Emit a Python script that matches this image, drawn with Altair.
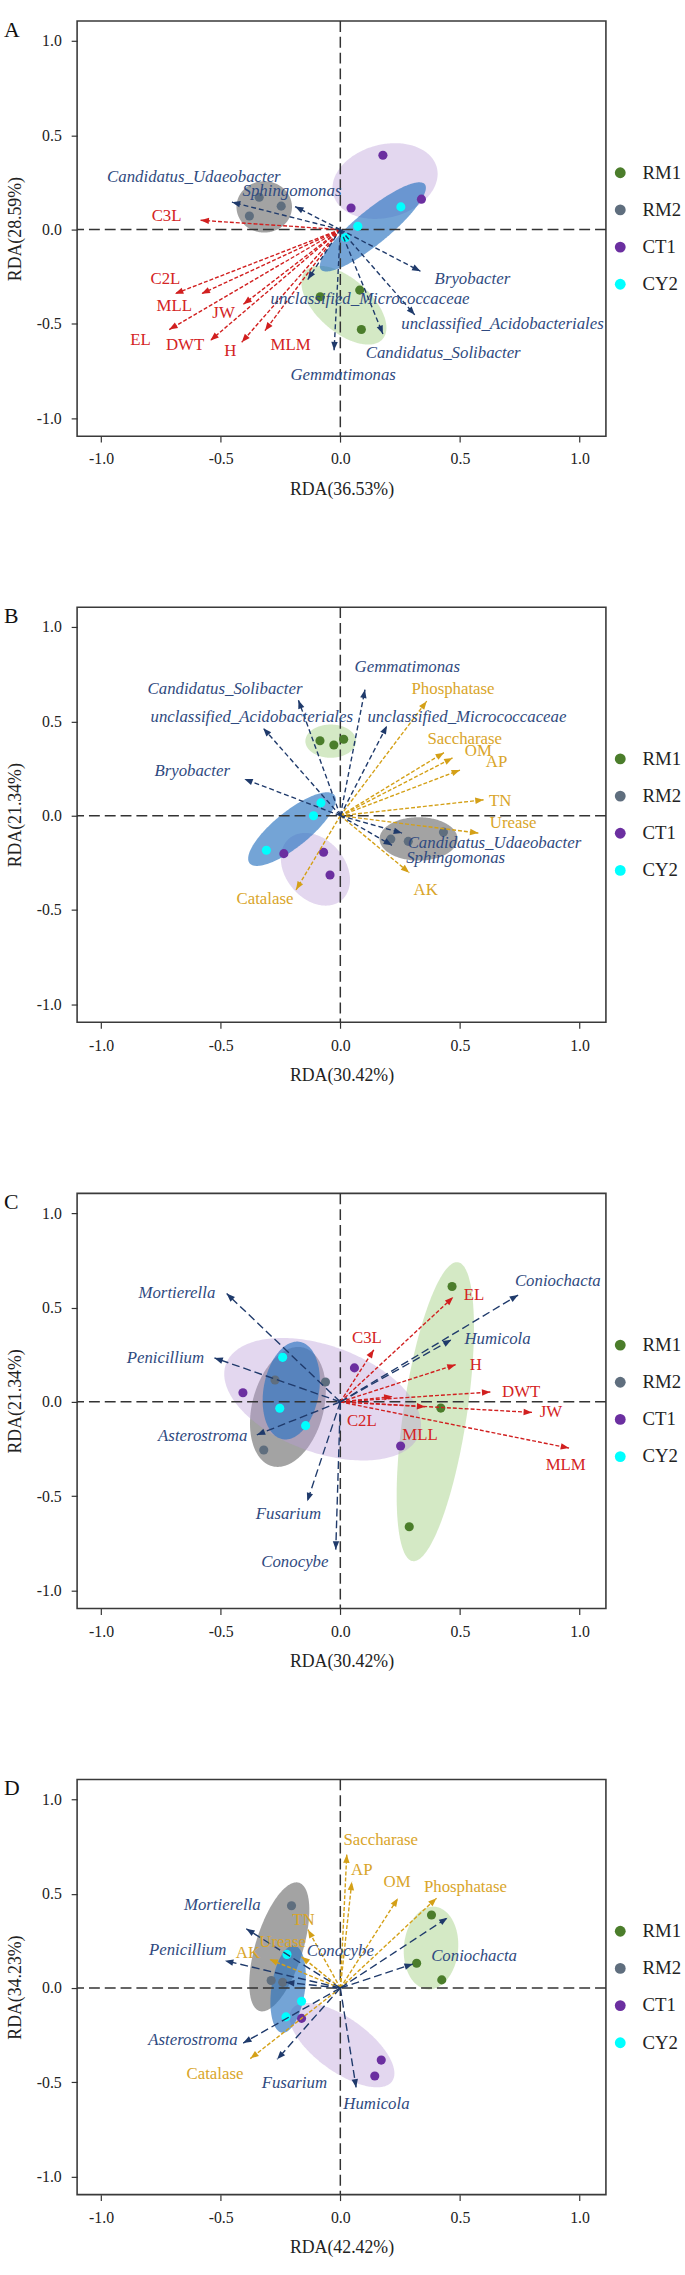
import math
import numpy as np
import pandas as pd
import altair as alt

SERIF = "Liberation Serif"
GROUPS = ["RM1", "RM2", "CT1", "CY2"]
POINT_COLORS = ["#4b7d2b", "#5f6e7e", "#6b2fa0", "#00ffff"]
ELLIPSE_FILLS = ["#9fcf7f", "#606060", "#b89ad6", "#2a73c0"]
ELLIPSE_OPACITY = [0.45, 0.58, 0.4, 0.65]
RED, RED_TXT = "#d11f1f", "#d42424"
GOLD, GOLD_TXT = "#d4a017", "#d9a52a"
NAVY, NAVY_TXT = "#1f3a6b", "#2f4a80"

X_DOMAIN = [-1.1, 1.11]
Y_DOMAIN = [-1.095, 1.105]
TICKS = [-1.0, -0.5, 0.0, 0.5, 1.0]
W, H = 535, 420

# ---------------- Panel A ----------------
A_xtitle, A_ytitle = "RDA(36.53%)", "RDA(28.59%)"
A_pt_group = ["RM1"] * 3 + ["RM2"] * 3 + ["CT1"] * 3 + ["CY2"] * 3
A_pt_x = [-0.084, 0.081, 0.088, -0.339, -0.247, -0.380, 0.178, 0.045, 0.339, 0.253, 0.073, 0.022]
A_pt_y = [-0.356, -0.321, -0.530, 0.171, 0.124, 0.072, 0.394, 0.114, 0.161, 0.120, 0.017, -0.042]
# ellipses (order RM1, RM2, CT1, CY2): centre + two conjugate semi-diameters
A_ell_cx = [0.015, -0.318, 0.187, 0.136]
A_ell_cy = [-0.401, 0.120, 0.257, 0.014]
A_ell_ux = [0.162, 0.116, 0.216, 0.217]
A_ell_uy = [-0.179, 0.0, 0.073, 0.226]
A_ell_vx = [0.073, 0.0, -0.040, -0.045]
A_ell_vy = [0.107, 0.136, 0.187, 0.069]
A_env_name = ["C3L", "C2L", "MLL", "EL", "JW", "DWT", "H", "MLM"]
A_env_x = [-0.584, -0.691, -0.580, -0.715, -0.405, -0.543, -0.412, -0.315]
A_env_y = [0.049, -0.340, -0.340, -0.530, -0.396, -0.588, -0.597, -0.536]
A_env_lx = [-0.726, -0.731, -0.694, -0.835, -0.488, -0.649, -0.460, -0.208]
A_env_ly = [0.070, -0.265, -0.405, -0.583, -0.440, -0.614, -0.646, -0.611]
A_sp_name = ["Candidatus_Udaeobacter", "Sphingomonas", "unclassified_Micrococcaceae", "Gemmatimonas",
             "Candidatus_Solibacter", "unclassified_Acidobacteriales", "Bryobacter"]
A_sp_x = [-0.453, -0.189, -0.136, -0.026, 0.178, 0.311, 0.335]
A_sp_y = [0.145, 0.122, -0.265, -0.640, -0.553, -0.452, -0.221]
A_sp_lx = [-0.612, -0.202, 0.124, 0.012, 0.430, 0.678, 0.552]
A_sp_ly = [0.276, 0.203, -0.366, -0.770, -0.654, -0.499, -0.265]

# ---------------- Panel B ----------------
B_xtitle, B_ytitle = "RDA(30.42%)", "RDA(21.34%)"
B_pt_group = A_pt_group
B_pt_x = [-0.085, -0.027, 0.014, 0.431, 0.284, 0.211, -0.236, -0.070, -0.043, -0.081, -0.112, -0.309]
B_pt_y = [0.397, 0.375, 0.405, -0.087, -0.136, -0.124, -0.201, -0.194, -0.314, 0.068, 0.000, -0.183]
B_ell_cx = [-0.040, 0.327, -0.104, -0.202]
B_ell_cy = [0.395, -0.123, -0.284, -0.071]
B_ell_ux = [0.106, 0.163, 0.109, 0.177]
B_ell_uy = [0.0, 0.0, -0.164, 0.181]
B_ell_vx = [0.0, 0.0, 0.095, -0.047]
B_ell_vy = [0.088, 0.115, 0.101, 0.073]
B_enz_name = ["Phosphatase", "Saccharase", "OM", "AP", "TN", "Urease", "AK", "Catalase"]
B_enz_x = [0.361, 0.433, 0.469, 0.500, 0.599, 0.577, 0.288, -0.185]
B_enz_y = [0.607, 0.334, 0.306, 0.242, 0.084, -0.092, -0.302, -0.393]
B_enz_lx = [0.471, 0.520, 0.577, 0.653, 0.668, 0.722, 0.357, -0.315]
B_enz_ly = [0.671, 0.408, 0.340, 0.284, 0.079, -0.040, -0.393, -0.441]
B_sp_name = ["Gemmatimonas", "Candidatus_Solibacter", "unclassified_Acidobacteriales",
             "unclassified_Micrococcaceae", "Bryobacter", "Candidatus_Udaeobacter", "Sphingomonas"]
B_sp_x = [0.103, -0.175, -0.322, 0.195, -0.401, 0.258, 0.216]
B_sp_y = [0.668, 0.612, 0.464, 0.477, 0.195, -0.092, -0.157]
B_sp_lx = [0.280, -0.482, -0.370, 0.529, -0.619, 0.644, 0.482]
B_sp_ly = [0.788, 0.673, 0.523, 0.523, 0.236, -0.144, -0.227]

# ---------------- Panel C ----------------
C_xtitle, C_ytitle = "RDA(30.42%)", "RDA(21.34%)"
C_pt_group = A_pt_group
C_pt_x = [0.467, 0.420, 0.288, -0.273, -0.062, -0.320, -0.407, 0.059, 0.252, -0.241, -0.253, -0.145]
C_pt_y = [0.611, -0.033, -0.662, 0.116, 0.105, -0.255, 0.048, 0.180, -0.234, 0.236, -0.034, -0.126]
C_ell_cx = [0.397, -0.219, -0.074, -0.205]
C_ell_cy = [-0.052, -0.027, 0.014, 0.060]
C_ell_ux = [0.0945, 0.066, 0.404, 0.036]
C_ell_uy = [0.792, 0.314, -0.186, 0.258]
C_ell_vx = [-0.131, -0.144, 0.076, -0.114]
C_ell_vy = [0.025, 0.049, 0.266, 0.026]
C_env_name = ["EL", "C3L", "H", "DWT", "JW", "MLM", "C2L", "MLL"]
C_env_x = [0.472, 0.140, 0.482, 0.627, 0.801, 0.956, 0.218, 0.355]
C_env_y = [0.555, 0.276, 0.197, 0.052, -0.056, -0.245, 0.028, -0.026]
C_env_lx = [0.559, 0.111, 0.566, 0.756, 0.880, 0.942, 0.090, 0.333]
C_env_ly = [0.564, 0.338, 0.196, 0.051, -0.056, -0.334, -0.100, -0.174]
C_sp_name = ["Mortierella", "Penicillium", "Asterostroma", "Fusarium", "Conocybe", "Coniochacta", "Humicola"]
C_sp_x = [-0.475, -0.526, -0.349, -0.138, -0.019, 0.743, 0.464]
C_sp_y = [0.574, 0.233, -0.175, -0.527, -0.783, 0.566, 0.329]
C_sp_lx = [-0.683, -0.731, -0.575, -0.217, -0.190, 0.909, 0.657]
C_sp_ly = [0.574, 0.233, -0.180, -0.594, -0.848, 0.638, 0.333]

# ---------------- Panel D ----------------
D_xtitle, D_ytitle = "RDA(42.42%)", "RDA(34.23%)"
D_pt_group = A_pt_group
D_pt_x = [0.381, 0.319, 0.424, -0.204, -0.289, -0.241, -0.162, 0.171, 0.144, -0.223, -0.162, -0.227]
D_pt_y = [0.387, 0.131, 0.043, 0.436, 0.040, 0.030, -0.161, -0.382, -0.466, 0.178, -0.070, -0.153]
D_ell_cx = [0.379, -0.255, 0.007, -0.218]
D_ell_cy = [0.212, 0.218, -0.303, -0.006]
D_ell_ux = [0.0151, 0.082, 0.209, 0.0256]
D_ell_uy = [0.219, 0.340, -0.192, 0.231]
D_ell_vx = [-0.113, -0.095, 0.0656, -0.0695]
D_ell_vy = [0.0125, 0.036, 0.114, 0.0124]
D_enz_name = ["Saccharase", "AP", "OM", "Phosphatase", "TN", "Urease", "AK", "Catalase"]
D_enz_x = [0.027, 0.048, 0.241, 0.402, -0.135, -0.162, -0.296, -0.376]
D_enz_y = [0.707, 0.563, 0.476, 0.476, 0.309, 0.166, 0.152, -0.374]
D_enz_lx = [0.169, 0.090, 0.237, 0.523, -0.154, -0.241, -0.386, -0.524]
D_enz_ly = [0.785, 0.626, 0.564, 0.535, 0.361, 0.245, 0.187, -0.456]
D_sp_name = ["Mortierella", "Penicillium", "Conocybe", "Coniochacta", "", "Asterostroma", "Fusarium", "Humicola"]
D_sp_x = [-0.393, -0.482, -0.227, 0.303, 0.448, -0.406, -0.264, 0.066]
D_sp_y = [0.314, 0.145, 0.030, 0.127, 0.372, -0.292, -0.378, -0.527]
D_sp_lx = [-0.493, -0.638, 0.000, 0.559, 0.448, -0.616, -0.192, 0.151]
D_sp_ly = [0.441, 0.202, 0.197, 0.168, 0.372, -0.275, -0.505, -0.617]

# ------------------------------------------------------------------
SX = W / (X_DOMAIN[1] - X_DOMAIN[0])
SY = H / (Y_DOMAIN[1] - Y_DOMAIN[0])
HEAD = "M0,0L0.5,1.3L-0.5,1.3Z"
LABEL_EXPR = "(datum.value < 0 ? '-' : '') + format(abs(datum.value), '.1f')"


def ellipse_df(cx, cy, ux, uy, vx, vy):
    r = math.hypot(ux, vx)
    t0 = math.atan2(vx, ux)
    s = np.linspace(0, math.pi, 121)
    ex = cx + r * np.cos(s)
    ya = cy + uy * np.cos(t0 + s) + vy * np.sin(t0 + s)
    yb = cy + uy * np.cos(t0 - s) + vy * np.sin(t0 - s)
    return pd.DataFrame({"ex": ex, "ey1": np.maximum(ya, yb), "ey2": np.minimum(ya, yb)})


def arrow_df(names, xs, ys, lxs, lys):
    df = pd.DataFrame({"name": names, "x": xs, "y": ys, "lx": lxs, "ly": lys})
    df["ox"] = 0.0
    df["oy"] = 0.0
    df["angle"] = [(math.degrees(math.atan2(x * SX, y * SY)) + 360) % 360 for x, y in zip(xs, ys)]
    return df


def panel(letter, xtitle, ytitle, pg, px, py, ell, arrows, legend_y=144):
    xs = alt.Scale(domain=X_DOMAIN, nice=False, zero=False)
    ys = alt.Scale(domain=Y_DOMAIN, nice=False, zero=False)
    xaxis = alt.Axis(values=TICKS, labelExpr=LABEL_EXPR, title=xtitle, labelPadding=9,
                     titlePadding=14, tickSize=6)
    yaxis = alt.Axis(values=TICKS, labelExpr=LABEL_EXPR, title=ytitle, labelPadding=10,
                     titlePadding=12, tickSize=6)

    def X(f):
        return alt.X(f, type="quantitative", scale=xs, axis=xaxis)

    def Y(f):
        return alt.Y(f, type="quantitative", scale=ys, axis=yaxis)

    layers = []
    cx, cy, ux, uy, vx, vy = ell
    for i in range(4):
        d = ellipse_df(cx[i], cy[i], ux[i], uy[i], vx[i], vy[i])
        layers.append(
            alt.Chart(d).mark_area(fill=ELLIPSE_FILLS[i], opacity=ELLIPSE_OPACITY[i], interpolate="linear")
            .encode(x=X("ex"), y=Y("ey1"), y2=alt.Y2("ey2"))
        )
    zero = pd.DataFrame({"v": [0.0]})
    layers.append(alt.Chart(zero).mark_rule(color="#333333", strokeDash=[11, 5], strokeWidth=1.5)
                  .encode(x=X("v")))
    layers.append(alt.Chart(zero).mark_rule(color="#333333", strokeDash=[11, 5], strokeWidth=1.5)
                  .encode(y=Y("v")))
    pts = pd.DataFrame({"group": pg, "x": px, "y": py})
    layers.append(
        alt.Chart(pts).mark_circle(size=85, opacity=1).encode(
            x=X("x"), y=Y("y"),
            color=alt.Color("group:N", scale=alt.Scale(domain=GROUPS, range=POINT_COLORS),
                            legend=alt.Legend(title=None, orient="none", legendX=540, legendY=legend_y,
                                              labelFont=SERIF, labelFontSize=19, labelColor="#222222",
                                              symbolType="circle", symbolSize=120, symbolStrokeWidth=0,
                                              rowPadding=17.6, labelOffset=13, padding=0))
        )
    )
    for df, lc, tc, dash, italic in arrows:
        layers.append(alt.Chart(df).mark_rule(color=lc, strokeDash=dash, strokeWidth=1.4)
                      .encode(x=X("ox"), y=Y("oy"), x2="x", y2="y"))
        layers.append(alt.Chart(df).mark_point(shape=HEAD, filled=True, size=170, color=lc, opacity=1,
                                               strokeWidth=0)
                      .encode(x=X("x"), y=Y("y"), angle=alt.Angle("angle:Q", scale=None)))
    for df, lc, tc, dash, italic in arrows:
        layers.append(alt.Chart(df).mark_text(font=SERIF, fontSize=17, color=tc,
                                              fontStyle="italic" if italic else "normal",
                                              align="center", baseline="middle")
                      .encode(x=X("lx"), y=Y("ly"), text="name:N"))
    lt = pd.DataFrame({"t": [letter]})
    layers.append(alt.Chart(lt).mark_text(font=SERIF, fontSize=22, color="#111111", align="left",
                                          baseline="top")
                  .encode(text="t:N", x=alt.value(-74), y=alt.value(-1)))
    return alt.layer(*layers).properties(width=W, height=H)


pA = panel("A", A_xtitle, A_ytitle, A_pt_group, A_pt_x, A_pt_y,
           (A_ell_cx, A_ell_cy, A_ell_ux, A_ell_uy, A_ell_vx, A_ell_vy),
           [(arrow_df(A_env_name, A_env_x, A_env_y, A_env_lx, A_env_ly), RED, RED_TXT, [4, 2], False),
            (arrow_df(A_sp_name, A_sp_x, A_sp_y, A_sp_lx, A_sp_ly), NAVY, NAVY_TXT, [5, 3], True)])
pB = panel("B", B_xtitle, B_ytitle, B_pt_group, B_pt_x, B_pt_y,
           (B_ell_cx, B_ell_cy, B_ell_ux, B_ell_uy, B_ell_vx, B_ell_vy),
           [(arrow_df(B_enz_name, B_enz_x, B_enz_y, B_enz_lx, B_enz_ly), GOLD, GOLD_TXT, [4, 2], False),
            (arrow_df(B_sp_name, B_sp_x, B_sp_y, B_sp_lx, B_sp_ly), NAVY, NAVY_TXT, [5, 3], True)])
pC = panel("C", C_xtitle, C_ytitle, C_pt_group, C_pt_x, C_pt_y,
           (C_ell_cx, C_ell_cy, C_ell_ux, C_ell_uy, C_ell_vx, C_ell_vy),
           [(arrow_df(C_env_name, C_env_x, C_env_y, C_env_lx, C_env_ly), RED, RED_TXT, [4, 2], False),
            (arrow_df(C_sp_name, C_sp_x, C_sp_y, C_sp_lx, C_sp_ly), NAVY, NAVY_TXT, [8, 4], True)])
pD = panel("D", D_xtitle, D_ytitle, D_pt_group, D_pt_x, D_pt_y,
           (D_ell_cx, D_ell_cy, D_ell_ux, D_ell_uy, D_ell_vx, D_ell_vy),
           [(arrow_df(D_enz_name, D_enz_x, D_enz_y, D_enz_lx, D_enz_ly), GOLD, GOLD_TXT, [4, 2], False),
            (arrow_df(D_sp_name, D_sp_x, D_sp_y, D_sp_lx, D_sp_ly), NAVY, NAVY_TXT, [8, 4], True)])

chart = (
    alt.vconcat(pA, pB, pC, pD, spacing=173, bounds="flush")
    .resolve_scale(color="independent")
    .properties(padding={"left": 3, "top": 5, "right": 2, "bottom": 2})
    .configure_view(stroke="#3a3a3a", strokeWidth=1.6)
    .configure_axis(domain=False, grid=False, labelFont=SERIF, labelFontSize=16, labelColor="#222222",
                    titleFont=SERIF, titleFontSize=18, titleFontWeight="normal", titleColor="#222222",
                    tickColor="#333333", tickWidth=1.2)
)

chart.save("out.html", embed_options={"renderer": "svg", "actions": False})
